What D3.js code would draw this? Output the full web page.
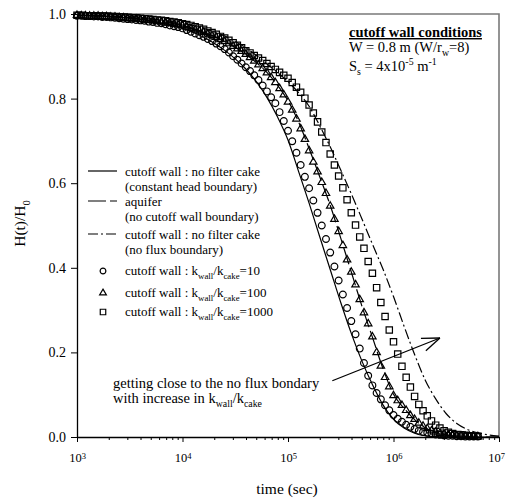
<!DOCTYPE html>
<html>
<head>
<meta charset="utf-8">
<script src="https://cdn.jsdelivr.net/npm/d3@7"></script>
<style>
  body { margin: 0; background: #fff; }
  svg text { font-family: "Liberation Serif", "Times New Roman", serif; fill: #000; white-space: pre; }
</style>
</head>
<body>
<div id="chart"></div>
<script>
var svgWidth = 506;
var svgHeight = 500;

var margin = {top: 14, right: 7, bottom: 63, left: 77};
var width = svgWidth - margin.left - margin.right;
var height = svgHeight - margin.top - margin.bottom;

// sampling times of the markers (log10 of time in sec)
var markerLogT = [
  3.00,3.04,3.08,3.12,3.16,3.20,3.24,3.28,3.32,3.36,
  3.40,3.44,3.48,3.52,3.56,3.60,3.64,3.68,3.72,3.76,
  3.80,3.84,3.88,3.92,3.96,4.00,4.04,4.08,4.12,4.16,
  4.20,4.24,4.28,4.32,4.36,4.40,4.44,4.48,4.52,4.56,
  4.60,4.64,4.68,4.72,4.76,4.80,4.84,4.88,4.92,4.96,
  5.00,5.04,5.08,5.12,5.16,5.20,5.24,5.28,5.32,5.36,
  5.40,5.44,5.48,5.52,5.56,5.60,5.64,5.68,5.72,5.76,
  5.80,5.84,5.88,5.92,5.96,6.00,6.04,6.08,6.12,6.16,
  6.20,6.24,6.28,6.32,6.36,6.40,6.44,6.48,6.52,6.56,
  6.60,6.64,6.68,6.72,6.76,6.80
];

// kwall/kcake = 10 (circles)
var ratio10 = [
  0.996,0.996,0.995,0.995,0.994,0.994,0.993,0.993,0.992,0.991,
  0.990,0.989,0.988,0.987,0.986,0.985,0.984,0.982,0.981,0.979,
  0.978,0.976,0.973,0.971,0.969,0.966,0.962,0.958,0.954,0.950,
  0.946,0.941,0.936,0.930,0.924,0.917,0.909,0.900,0.892,0.883,
  0.874,0.865,0.855,0.844,0.831,0.817,0.803,0.789,0.768,0.747,
  0.724,0.699,0.672,0.643,0.615,0.588,0.559,0.530,0.500,0.468,
  0.436,0.403,0.370,0.337,0.305,0.274,0.243,0.209,0.175,0.145,
  0.122,0.104,0.089,0.075,0.063,0.052,0.043,0.036,0.029,0.024,
  0.019,0.015,0.012,0.010,0.008,0.006,0.005,0.004,0.003,0.003,
  0.002,0.002,0.001,0.001,0.001,0.001
];

// kwall/kcake = 100 (triangles)
var ratio100 = [
  0.997,0.996,0.996,0.995,0.995,0.995,0.994,0.994,0.993,0.993,
  0.992,0.991,0.990,0.989,0.988,0.987,0.986,0.985,0.984,0.982,
  0.981,0.979,0.978,0.976,0.974,0.972,0.969,0.966,0.963,0.960,
  0.957,0.953,0.949,0.945,0.940,0.935,0.930,0.924,0.918,0.912,
  0.905,0.897,0.889,0.880,0.871,0.861,0.850,0.838,0.824,0.809,
  0.792,0.773,0.752,0.729,0.704,0.677,0.650,0.627,0.602,0.576,
  0.546,0.515,0.486,0.453,0.419,0.390,0.360,0.325,0.294,0.268,
  0.237,0.200,0.168,0.141,0.119,0.098,0.086,0.075,0.063,0.051,
  0.042,0.033,0.026,0.020,0.015,0.012,0.009,0.007,0.005,0.004,
  0.003,0.003,0.002,0.002,0.001,0.001
];

// kwall/kcake = 1000 (squares)
var ratio1000 = [
  0.997,0.997,0.996,0.996,0.996,0.995,0.995,0.995,0.994,0.994,
  0.993,0.993,0.992,0.991,0.991,0.990,0.989,0.988,0.987,0.986,
  0.985,0.984,0.982,0.981,0.979,0.977,0.975,0.973,0.970,0.967,
  0.964,0.960,0.956,0.952,0.947,0.943,0.938,0.932,0.926,0.920,
  0.913,0.908,0.902,0.896,0.890,0.883,0.876,0.869,0.862,0.855,
  0.848,0.838,0.827,0.815,0.801,0.785,0.766,0.745,0.721,0.696,
  0.669,0.643,0.617,0.589,0.561,0.530,0.501,0.473,0.446,0.415,
  0.387,0.353,0.318,0.285,0.253,0.225,0.196,0.167,0.141,0.118,
  0.096,0.077,0.062,0.050,0.038,0.028,0.021,0.015,0.011,0.008,
  0.006,0.005,0.004,0.003,0.002,0.002
];

// times for the three curves (log10 of time in sec)
var lineLogT = [
  3.0,3.1,3.2,3.3,3.4,3.5,3.6,3.7,3.8,3.9,
  4.0,4.1,4.2,4.3,4.4,4.5,4.6,4.7,4.8,4.9,
  5.0,5.1,5.2,5.3,5.4,5.5,5.6,5.7,5.8,5.9,
  6.0,6.1,6.2,6.3,6.4,6.5,6.6,6.7,6.8,6.9,7.0
];

// cutoff wall, no filter cake (constant head boundary)
var constantHead = [
  0.996,0.996,0.995,0.994,0.992,0.990,0.987,0.983,0.979,0.973,
  0.966,0.957,0.945,0.931,0.914,0.894,0.870,0.840,0.803,0.757,
  0.702,0.628,0.553,0.474,0.396,0.318,0.245,0.180,0.124,0.076,
  0.042,0.021,0.009,0.003,0.001,0.000,0.000,0.000,0.000,0.000,0.000
];

// aquifer (no cutoff wall boundary)
var aquifer = [
  0.997,0.996,0.996,0.995,0.993,0.991,0.988,0.985,0.982,0.978,
  0.973,0.966,0.957,0.947,0.935,0.921,0.905,0.885,0.862,0.832,
  0.795,0.745,0.682,0.616,0.548,0.470,0.390,0.310,0.236,0.162,
  0.101,0.068,0.041,0.022,0.011,0.005,0.002,0.001,0.000,0.000,0.000
];

// cutoff wall, no filter cake (no flux boundary)
var noFlux = [
  0.997,0.997,0.996,0.995,0.994,0.992,0.990,0.988,0.985,0.982,
  0.978,0.973,0.966,0.958,0.948,0.935,0.920,0.902,0.882,0.862,
  0.840,0.814,0.782,0.736,0.686,0.631,0.575,0.516,0.456,0.397,
  0.332,0.262,0.195,0.135,0.090,0.055,0.032,0.018,0.010,0.005,0.002
];

var xMajor = [3, 4, 5, 6, 7];
var yTicks = [0, 0.2, 0.4, 0.6, 0.8, 1.0];

var svg = d3.select("#chart")
  .append("svg")
  .attr("width", svgWidth)
  .attr("height", svgHeight);

var chartGroup = svg.append("g")
  .attr("transform", `translate(${margin.left}, ${margin.top})`);

// scales
var xScale = d3.scaleLog().domain([1e3, 1e7]).range([0, width]);
var yScale = d3.scaleLinear().domain([0, 1]).range([height, 0]);

// helper for text with sub/superscripts
function richText(g, x, y, parts, size, weight) {
  var t = g.append("text").attr("x", x).attr("y", y)
    .style("font-size", size + "px");
  if (weight) t.style("font-weight", weight);
  var shift = 0;
  parts.forEach(function(p) {
    var s = (typeof p === "string") ? {t: p} : p;
    var target = s.sub ? size * 0.3 : (s.sup ? -size * 0.38 : 0);
    var fs = (s.sub || s.sup) ? size * 0.68 : size;
    t.append("tspan").attr("dy", target - shift).style("font-size", fs + "px").text(s.t);
    shift = target;
  });
  return t;
}

// frame (top and right edges)
chartGroup.append("path")
  .attr("d", `M0,0H${width}V${height}`)
  .attr("fill", "none")
  .attr("stroke", "#7a7a7a")
  .attr("stroke-width", 1.6);

// minor x ticks
var minorVals = [];
xMajor.slice(0, -1).forEach(function(e) {
  for (var m = 2; m <= 9; m++) minorVals.push(m * Math.pow(10, e));
});
chartGroup.append("g")
  .attr("transform", `translate(0, ${height})`)
  .call(d3.axisBottom(xScale).tickValues(minorVals).tickSize(3).tickSizeOuter(0).tickFormat(""))
  .call(g => g.select(".domain").remove());

// major x axis
var xAxis = chartGroup.append("g")
  .attr("transform", `translate(0, ${height})`)
  .call(d3.axisBottom(xScale)
    .tickValues(xMajor.map(e => Math.pow(10, e)))
    .tickSize(5).tickSizeOuter(0).tickPadding(8)
    .tickFormat(""));
xAxis.select(".domain").attr("stroke-width", 1.3);
xAxis.selectAll(".tick text").remove();
xAxis.selectAll(".tick").each(function(d, i, nodes) {
  var e = Math.round(Math.log10(d));
  // last label sits at the right edge of the page, nudge it inside
  var dx = (i === nodes.length - 1) ? -3 : 0;
  var t = d3.select(this).append("text")
    .attr("y", 25).attr("x", dx)
    .attr("text-anchor", "middle")
    .style("font-size", "12.5px");
  t.append("tspan").text("10");
  t.append("tspan").attr("dy", -3).style("font-size", "8.5px").text(e);
});

// y axis
var yAxis = chartGroup.append("g")
  .call(d3.axisLeft(yScale).tickValues(yTicks).tickFormat(d3.format(".1f"))
    .tickSize(6).tickSizeOuter(0).tickPadding(5));
yAxis.select(".domain").attr("stroke-width", 1.3);
yAxis.selectAll(".tick text")
  .style("font-size", "14px");

// axis titles
chartGroup.append("text")
  .attr("x", width / 2 - 1)
  .attr("y", height + 57)
  .attr("text-anchor", "middle")
  .style("font-size", "15.5px")
  .text("time (sec)");

var yTitle = chartGroup.append("g")
  .attr("transform", `translate(-52, ${height / 2 - 2}) rotate(-90)`);
var yt = richText(yTitle, 0, 0, ["H(t)/H", {t: "0", sub: 1}], 15.5);
yt.attr("text-anchor", "middle");

// curves
var line = d3.line()
  .x(d => xScale(Math.pow(10, d[0])))
  .y(d => yScale(d[1]))
  .curve(d3.curveMonotoneX);

var curves = [
  {vals: constantHead, dash: null},
  {vals: aquifer, dash: "18,4"},
  {vals: noFlux, dash: "10,3,2,3"}
];

curves.forEach(function(c) {
  chartGroup.append("path")
    .datum(lineLogT.map((t, i) => [t, c.vals[i]]))
    .attr("d", line)
    .attr("fill", "none")
    .attr("stroke", "#000")
    .attr("stroke-width", 1.2)
    .attr("stroke-dasharray", c.dash);
});

// markers
var markerSeries = [
  {vals: ratio10, type: d3.symbolCircle, size: 36},
  {vals: ratio100, type: d3.symbolTriangle, size: 24},
  {vals: ratio1000, type: d3.symbolSquare, size: 40}
];

markerSeries.forEach(function(s) {
  chartGroup.append("g").selectAll("path")
    .data(markerLogT.map((t, i) => [t, s.vals[i]]))
    .enter()
    .append("path")
    .attr("transform", d => `translate(${xScale(Math.pow(10, d[0]))}, ${yScale(d[1])})`)
    .attr("d", d3.symbol().type(s.type).size(s.size))
    .attr("fill", "none")
    .attr("stroke", "#000")
    .attr("stroke-width", 1.2);
});

// legend
var legend = chartGroup.append("g");
var legendLines = [
  {y: 157, dash: null, text: ["cutoff wall : no filter cake", "(constant head boundary)"]},
  {y: 187, dash: "18,4", text: ["aquifer", "(no cutoff wall boundary)"]},
  {y: 220, dash: "10,3,2,3", text: ["cutoff wall : no filter cake", "(no flux boundary)"]}
];
legendLines.forEach(function(l) {
  legend.append("line")
    .attr("x1", 11).attr("x2", 40)
    .attr("y1", l.y).attr("y2", l.y)
    .attr("stroke", "#000").attr("stroke-width", 1.2)
    .attr("stroke-dasharray", l.dash);
  legend.append("text").attr("x", 48).attr("y", l.y + 4.5)
    .style("font-size", "13px").text(l.text[0]);
  legend.append("text").attr("x", 48).attr("y", l.y + 19.5)
    .style("font-size", "13px").text(l.text[1]);
});

var legendMarks = [
  {y: 257, type: d3.symbolCircle, size: 26, ratio: "10"},
  {y: 279, type: d3.symbolTriangle, size: 20, ratio: "100"},
  {y: 298, type: d3.symbolSquare, size: 30, ratio: "1000"}
];
legendMarks.forEach(function(m) {
  legend.append("path")
    .attr("transform", `translate(26, ${m.y})`)
    .attr("d", d3.symbol().type(m.type).size(m.size))
    .attr("fill", "none").attr("stroke", "#000").attr("stroke-width", 1.2);
  richText(legend, 48, m.y + 4,
    ["cutoff wall : k", {t: "wall", sub: 1}, "/k", {t: "cake", sub: 1}, "=" + m.ratio], 13);
});

// conditions text, top right
var cond = chartGroup.append("g");
cond.append("text")
  .attr("x", 272).attr("y", 23)
  .style("font-size", "14.5px")
  .style("font-weight", "bold")
  .style("text-decoration", "underline")
  .text("cutoff wall conditions");
richText(cond, 272, 38, ["W = 0.8 m (W/r", {t: "w", sub: 1}, "=8)"], 14.5);
richText(cond, 272, 57, ["S", {t: "s", sub: 1}, " = 4x10", {t: "-5", sup: 1}, " m", {t: "-1", sup: 1}], 14.5);

// annotation arrow and text
var arrowFrom = [xScale(Math.pow(10, 5.42)), yScale(0.133)];
var arrowTo = [xScale(Math.pow(10, 6.44)), yScale(0.234)];
chartGroup.append("line")
  .attr("x1", arrowFrom[0]).attr("y1", arrowFrom[1])
  .attr("x2", arrowTo[0]).attr("y2", arrowTo[1])
  .attr("stroke", "#000").attr("stroke-width", 1.3);
var ang = Math.atan2(arrowTo[1] - arrowFrom[1], arrowTo[0] - arrowFrom[0]);
[-0.36, 0.36].forEach(function(a) {
  chartGroup.append("line")
    .attr("x1", arrowTo[0]).attr("y1", arrowTo[1])
    .attr("x2", arrowTo[0] - 19 * Math.cos(ang + a))
    .attr("y2", arrowTo[1] - 19 * Math.sin(ang + a))
    .attr("stroke", "#000").attr("stroke-width", 1.3);
});

chartGroup.append("text")
  .attr("x", 36).attr("y", 374)
  .style("font-size", "14.5px")
  .text("getting close to the no flux bondary");
richText(chartGroup, 36, 389, ["with increase in k", {t: "wall", sub: 1}, "/k", {t: "cake", sub: 1}], 14.5);
</script>
</body>
</html>
